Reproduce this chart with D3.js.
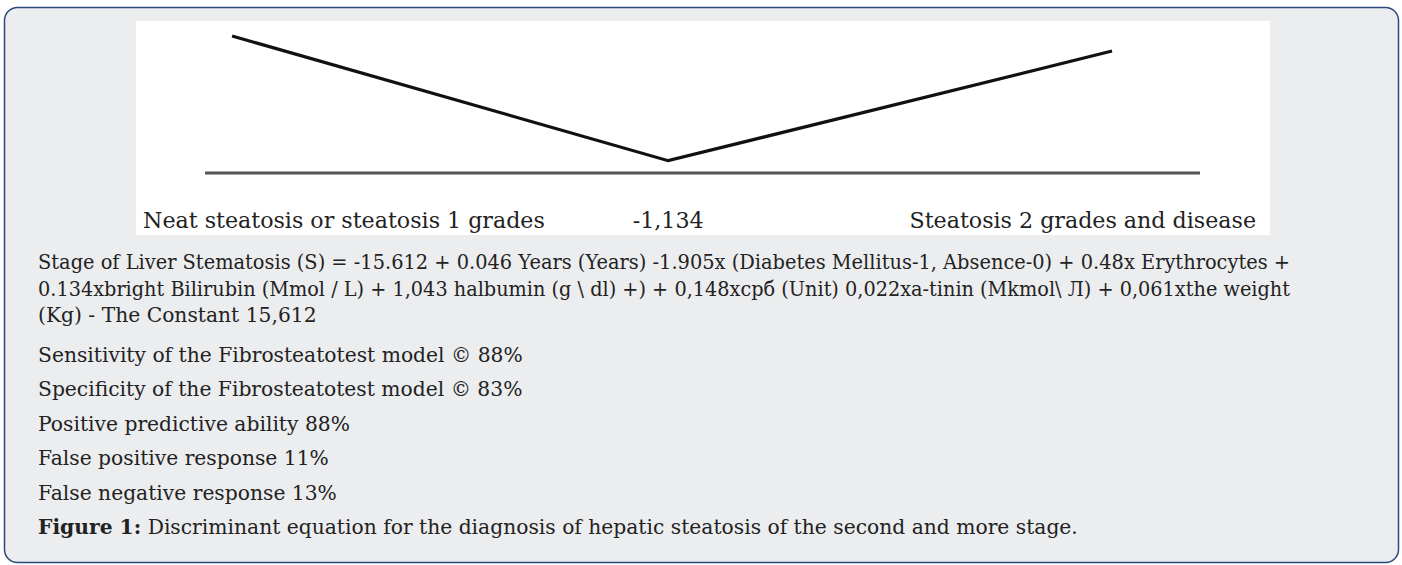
<!DOCTYPE html>
<html>
<head>
<meta charset="utf-8">
<script src="https://cdn.jsdelivr.net/npm/d3@7"></script>
<style>
  body { margin: 0; background: #fff; }
  svg { display: block; }
</style>
</head>
<body>
<div id="chart"></div>
<script>
// discriminant V: score on x, relative height on y
var scores = [-5, -1.134, 2.8];
var heights = [1, 0.09, 0.89];
var baseRange = [-5.24, 3.58];
var groupLabels = ["Neat steatosis or steatosis 1 grades", "-1,134", "Steatosis 2 grades and disease"];

var equationLines = [
  "Stage of Liver Stematosis (S) = -15.612 + 0.046 Years (Years) -1.905x (Diabetes Mellitus-1, Absence-0) + 0.48x Erythrocytes +",
  "0.134xbright Bilirubin (Mmol / L) + 1,043 halbumin (g \\ dl) +) + 0,148xcpб (Unit) 0,022xa-tinin (Mkmol\\ Л) + 0,061xthe weight",
  "(Kg) - The Constant 15,612"
];
var statLines = [
  "Sensitivity of the Fibrosteatotest model © 88%",
  "Specificity of the Fibrosteatotest model © 83%",
  "Positive predictive ability 88%",
  "False positive response 11%",
  "False negative response 13%"
];
var captionBold = "Figure 1:";
var captionText = " Discriminant equation for the diagnosis of hepatic steatosis of the second and more stage.";

var W = 1402, H = 565;
var svg = d3.select("#chart").append("svg").attr("width", W).attr("height", H);

// font size that makes a sample string a given width
function fitSize(font, str, width) {
  var t = svg.append("text").attr("font-family", font).attr("font-size", 100).text(str);
  var len = t.node().getComputedTextLength();
  t.remove();
  return 100 * width / len;
}

// outer panel
svg.append("rect")
  .attr("x", 4.5).attr("y", 7.5).attr("width", 1394).attr("height", 555)
  .attr("rx", 13).attr("ry", 13)
  .attr("fill", "#ecedef").attr("stroke", "#2b4a7c").attr("stroke-width", 1.5);

// white figure area
svg.append("rect")
  .attr("x", 136).attr("y", 21).attr("width", 1134).attr("height", 214)
  .attr("fill", "#fff");

var x = d3.scaleLinear().domain(baseRange).range([205, 1200]);
var y = d3.scaleLinear().domain([0, 1]).range([173, 36]);

// baseline
svg.append("line")
  .attr("x1", x(baseRange[0])).attr("x2", x(baseRange[1]))
  .attr("y1", y(0)).attr("y2", y(0))
  .attr("stroke", "#555").attr("stroke-width", 3);

var pts = scores.map(function (s, i) { return [s, heights[i]]; });
var line = d3.line().x(function (d) { return x(d[0]); }).y(function (d) { return y(d[1]); });

svg.append("path").datum(pts)
  .attr("d", line)
  .attr("fill", "none").attr("stroke", "#111").attr("stroke-width", 3.2)
  .attr("stroke-linejoin", "miter");

// labels under the axis
var labelFont = "'DejaVu Serif', serif";
var labelSize = fitSize(labelFont, groupLabels[0], 402);
var labelPos = [
  { x: 143, anchor: "start" },
  { x: x(scores[1]), anchor: "middle" },
  { x: 1256, anchor: "end" }
];
svg.selectAll("text.grp").data(groupLabels).enter().append("text")
  .attr("class", "grp")
  .attr("x", function (d, i) { return labelPos[i].x; })
  .attr("y", 228)
  .attr("text-anchor", function (d, i) { return labelPos[i].anchor; })
  .attr("font-family", labelFont)
  .attr("font-size", labelSize)
  .attr("fill", "#222")
  .text(function (d) { return d; });

// body text
var bodyFont = "'DejaVu Serif', serif";
var bodySize = fitSize(bodyFont, statLines[0], 485);
var eqY = [269, 296, 322];
svg.selectAll("text.eq").data(equationLines).enter().append("text")
  .attr("class", "eq")
  .attr("x", 38)
  .attr("y", function (d, i) { return eqY[i]; })
  .attr("font-family", bodyFont).attr("font-size", bodySize)
  .attr("fill", "#222")
  .each(function (d, i) {
    if (i < 2) d3.select(this).attr("textLength", 1252).attr("lengthAdjust", "spacingAndGlyphs");
  })
  .text(function (d) { return d; });

var statY = [362, 396, 431, 465, 500];
svg.selectAll("text.stat").data(statLines).enter().append("text")
  .attr("class", "stat")
  .attr("x", 38)
  .attr("y", function (d, i) { return statY[i]; })
  .attr("font-family", bodyFont).attr("font-size", bodySize)
  .attr("fill", "#222")
  .text(function (d) { return d; });

var cap = svg.append("text")
  .attr("x", 38).attr("y", 534)
  .attr("font-family", bodyFont).attr("font-size", bodySize)
  .attr("fill", "#222");
cap.append("tspan").attr("font-weight", "bold").text(captionBold);
cap.append("tspan").text(captionText);
</script>
</body>
</html>
